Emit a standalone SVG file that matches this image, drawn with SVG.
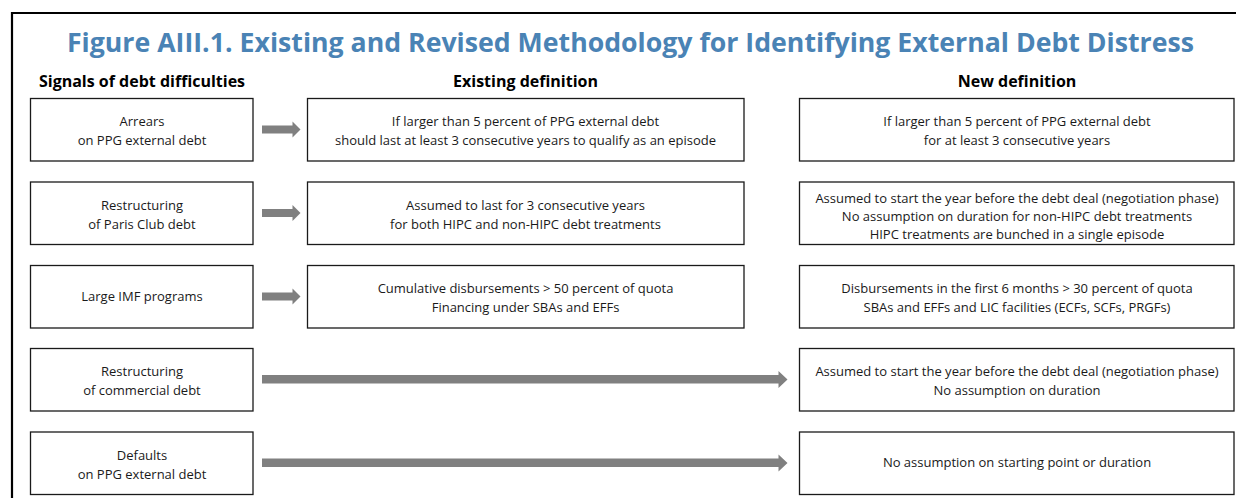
<svg xmlns="http://www.w3.org/2000/svg" width="1236" height="498" viewBox="0 0 1236 498">
<style>
.bx{fill:#fff;stroke:#1a1a1a;stroke-width:1.3}
.t{font-family:"Open Sans","Noto Sans","Liberation Sans",sans-serif;font-size:13px;fill:#1a1a1a;text-anchor:middle}
.h{font-family:"Open Sans","Noto Sans","Liberation Sans",sans-serif;font-size:16px;font-weight:bold;fill:#000;text-anchor:middle}
.title{font-family:"Open Sans","Noto Sans","Liberation Sans",sans-serif;font-size:26.7px;font-weight:bold;fill:#4A83B5;text-anchor:middle}
.ar{fill:#808080}
</style>
<rect width="1236" height="498" fill="#fff"/>
<path d="M12 498 V13 H1236" fill="none" stroke="#000" stroke-width="2.2"/>
<text class="title" x="630.5" y="52">Figure AIII.1. Existing and Revised Methodology for Identifying External Debt Distress</text>
<text class="h" x="142" y="87">Signals of debt difficulties</text>
<text class="h" x="525.5" y="87">Existing definition</text>
<text class="h" x="1017" y="87">New definition</text>

<g id="connectors">
<polygon class="ar" points="262,125.5 292.5,125.5 292.5,121.5 300.5,129.5 292.5,137.5 292.5,133.5 262,133.5"/>
<polygon class="ar" points="262,209 292.5,209 292.5,205 300.5,213 292.5,221 292.5,217 262,217"/>
<polygon class="ar" points="262,292.5 292.5,292.5 292.5,288.5 300.5,296.5 292.5,304.5 292.5,300.5 262,300.5"/>
<polygon class="ar" points="262,375 778.5,375 778.5,371 787.5,379.5 778.5,388 778.5,383.5 262,383.5"/>
<polygon class="ar" points="262,458.5 778.5,458.5 778.5,454.5 787.5,463 778.5,471.5 778.5,467 262,467"/>
</g>

<g id="sig-arrears"><rect class="bx" x="30.5" y="98.5" width="222.5" height="62.5"/>
<text class="t" x="142" y="126">Arrears</text><text class="t" x="142" y="145">on PPG external debt</text></g>
<g id="sig-paris"><rect class="bx" x="30.5" y="182" width="222.5" height="62.5"/>
<text class="t" x="142" y="209.5">Restructuring</text><text class="t" x="142" y="228.5">of Paris Club debt</text></g>
<g id="sig-imf"><rect class="bx" x="30.5" y="265.5" width="222.5" height="62.5"/>
<text class="t" x="142" y="301">Large IMF programs</text></g>
<g id="sig-commercial"><rect class="bx" x="30.5" y="348.5" width="222.5" height="62.5"/>
<text class="t" x="142" y="376">Restructuring</text><text class="t" x="142" y="395">of commercial debt</text></g>
<g id="sig-defaults"><rect class="bx" x="30.5" y="432" width="222.5" height="62.5"/>
<text class="t" x="142" y="459.5">Defaults</text><text class="t" x="142" y="478.5">on PPG external debt</text></g>

<g id="ex-arrears"><rect class="bx" x="307.5" y="98.5" width="436.5" height="62.5"/>
<text class="t" x="525.5" y="126">If larger than 5 percent of PPG external debt</text><text class="t" x="525.5" y="145">should last at least 3 consecutive years to qualify as an episode</text></g>
<g id="ex-paris"><rect class="bx" x="307.5" y="182" width="436.5" height="62.5"/>
<text class="t" x="525.5" y="209.5">Assumed to last for 3 consecutive years</text><text class="t" x="525.5" y="228.5">for both HIPC and non-HIPC debt treatments</text></g>
<g id="ex-imf"><rect class="bx" x="307.5" y="265.5" width="436.5" height="62.5"/>
<text class="t" x="525.5" y="293">Cumulative disbursements &gt; 50 percent of quota</text><text class="t" x="525.5" y="312">Financing under SBAs and EFFs</text></g>

<g id="new-arrears"><rect class="bx" x="799.5" y="98.5" width="434.5" height="62.5"/>
<text class="t" x="1017" y="126">If larger than 5 percent of PPG external debt</text><text class="t" x="1017" y="145">for at least 3 consecutive years</text></g>
<g id="new-paris"><rect class="bx" x="799.5" y="182" width="434.5" height="62.5"/>
<text class="t" x="1017" y="203.2">Assumed to start the year before the debt deal (negotiation phase)</text><text class="t" x="1017" y="221.2">No assumption on duration for non-HIPC debt treatments</text><text class="t" x="1017" y="239.2">HIPC treatments are bunched in a single episode</text></g>
<g id="new-imf"><rect class="bx" x="799.5" y="265.5" width="434.5" height="62.5"/>
<text class="t" x="1017" y="293">Disbursements in the first 6 months &gt; 30 percent of quota</text><text class="t" x="1017" y="312">SBAs and EFFs and LIC facilities (ECFs, SCFs, PRGFs)</text></g>
<g id="new-commercial"><rect class="bx" x="799.5" y="348.5" width="434.5" height="62.5"/>
<text class="t" x="1017" y="376">Assumed to start the year before the debt deal (negotiation phase)</text><text class="t" x="1017" y="395">No assumption on duration</text></g>
<g id="new-defaults"><rect class="bx" x="799.5" y="432" width="434.5" height="62.5"/>
<text class="t" x="1017" y="467">No assumption on starting point or duration</text></g>
</svg>
